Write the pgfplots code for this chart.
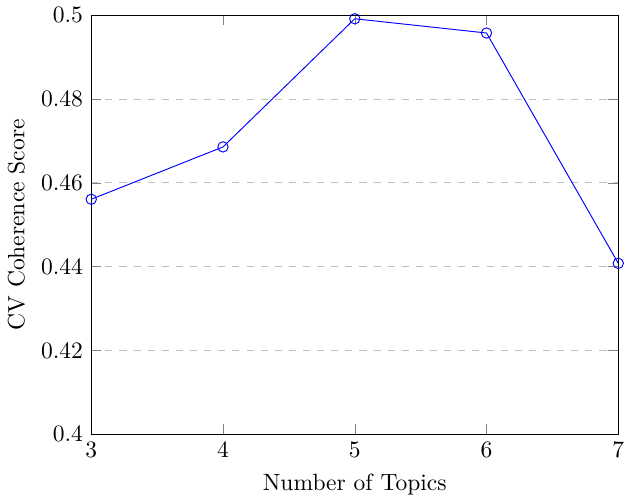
\documentclass[border=0pt]{standalone}
\usepackage{pgfplots}
\pgfplotsset{compat=1.18}
\begin{document}
\begin{tikzpicture}
\begin{axis}[
    scale only axis,
    width=224pt,
    height=178pt,
    xmin=3, xmax=7,
    ymin=0.4, ymax=0.5,
    xtick={3,4,5,6,7},
    ytick={0.4,0.42,0.44,0.46,0.48,0.5},
    ymajorgrids=true,
    grid style={dashed, gray!50},
    xlabel={Number of Topics},
    ylabel={CV Coherence Score},
]
\addplot[color=blue, mark=o, mark size=2.2pt] coordinates {
    (3, 0.4561)
    (4, 0.4686)
    (5, 0.4992)
    (6, 0.4958)
    (7, 0.4408)
};
\end{axis}
\end{tikzpicture}
\end{document}
